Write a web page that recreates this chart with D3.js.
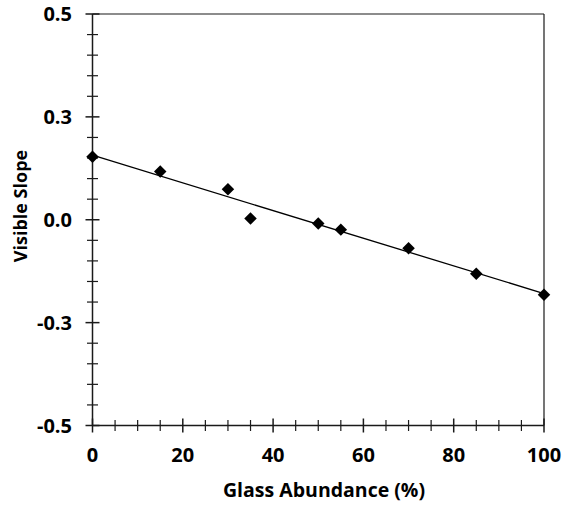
<!DOCTYPE html>
<html>
<head>
<meta charset="utf-8">
<script src="https://cdn.jsdelivr.net/npm/d3@7"></script>
<style>
  html, body { margin: 0; padding: 0; background: #fff; }
  svg { display: block; }
  text { font-family: "Open Sans", Lato, sans-serif; font-weight: bold; fill: #000; }
</style>
</head>
<body>
<svg id="chart" width="562" height="506"></svg>
<script>
// Data
const glassAbundance = [0, 15, 30, 35, 50, 55, 70, 85, 100];
const visibleSlope   = [0.153, 0.117, 0.074, 0.003, -0.009, -0.024, -0.069, -0.131, -0.182];
const xTickValues = [0, 20, 40, 60, 80, 100];
const yTickValues = [-0.5, -0.25, 0, 0.25, 0.5];
const xTitle = "Glass Abundance (%)";
const yTitle = "Visible Slope";

(function () {
const svg = d3.select("#chart");
const pL = 92.5, pR = 544, pT = 14, pB = 425.5;

const x = d3.scaleLinear().domain([0, 100]).range([pL, pR]);
const y = d3.scaleLinear().domain([-0.5, 0.5]).range([pB, pT]);

const loc = d3.formatLocale({ decimal: ".", thousands: ",", grouping: [3], currency: ["", ""], minus: "-" });
const fmtY = loc.format(".1f");
const fmtX = loc.format("d");

const axisColor = "#1a1a1a";

// frame (top & right lines)
svg.append("line").attr("x1", pL).attr("x2", pR).attr("y1", pT).attr("y2", pT)
  .attr("stroke", axisColor).attr("stroke-width", 1.2);
svg.append("line").attr("x1", pR).attr("x2", pR).attr("y1", pT).attr("y2", pB)
  .attr("stroke", axisColor).attr("stroke-width", 1.2);

// minor ticks
const xMinor = d3.range(0, 101, 5).filter(v => v % 20 !== 0);
const yMinor = d3.range(-10, 11).map(i => i * 0.05).filter(v => Math.abs((v / 0.25) - Math.round(v / 0.25)) > 1e-6);

const g = svg.append("g");
g.selectAll(".xminor").data(xMinor).join("line")
  .attr("x1", d => x(d)).attr("x2", d => x(d))
  .attr("y1", pB - 5.5).attr("y2", pB + 5.5)
  .attr("stroke", axisColor).attr("stroke-width", 1.2);
g.selectAll(".yminor").data(yMinor).join("line")
  .attr("y1", d => y(d)).attr("y2", d => y(d))
  .attr("x1", pL - 5.5).attr("x2", pL + 5.5)
  .attr("stroke", axisColor).attr("stroke-width", 1.2);

// major ticks
g.selectAll(".xmajor").data(xTickValues).join("line")
  .attr("x1", d => x(d)).attr("x2", d => x(d))
  .attr("y1", pB - 7).attr("y2", pB + 7)
  .attr("stroke", axisColor).attr("stroke-width", 1.5);
g.selectAll(".ymajor").data(yTickValues).join("line")
  .attr("y1", d => y(d)).attr("y2", d => y(d))
  .attr("x1", pL - 7).attr("x2", pL + 7)
  .attr("stroke", axisColor).attr("stroke-width", 1.5);

// axis lines
svg.append("line").attr("x1", pL).attr("x2", pR).attr("y1", pB).attr("y2", pB)
  .attr("stroke", axisColor).attr("stroke-width", 1.5);
svg.append("line").attr("x1", pL).attr("x2", pL).attr("y1", pT).attr("y2", pB)
  .attr("stroke", axisColor).attr("stroke-width", 1.5);

// tick labels
svg.selectAll(".xlab").data(xTickValues).join("text")
  .attr("x", d => x(d)).attr("y", 462)
  .attr("text-anchor", "middle").attr("font-size", 20)
  .text(d => fmtX(d));
svg.selectAll(".ylab").data(yTickValues).join("text")
  .attr("x", 72).attr("y", d => y(d)).attr("dy", "0.36em")
  .attr("text-anchor", "end").attr("font-size", 20)
  .text(d => fmtY(d));

// axis titles
svg.append("text").attr("x", 324).attr("y", 497)
  .attr("text-anchor", "middle").attr("font-size", 19.5).text(xTitle);
svg.append("text").attr("transform", `translate(27,206) rotate(-90)`)
  .attr("text-anchor", "middle").attr("font-size", 18).text(yTitle);

// linear regression trend line
const n = glassAbundance.length;
const mx = d3.mean(glassAbundance), my = d3.mean(visibleSlope);
let sxy = 0, sxx = 0;
for (let i = 0; i < n; i++) {
  sxy += (glassAbundance[i] - mx) * (visibleSlope[i] - my);
  sxx += (glassAbundance[i] - mx) ** 2;
}
const slope = sxy / sxx, intercept = my - slope * mx;
svg.append("line")
  .attr("x1", x(0)).attr("y1", y(intercept))
  .attr("x2", x(100)).attr("y2", y(intercept + slope * 100))
  .attr("stroke", "#000").attr("stroke-width", 1.3);

// markers (diamonds)
const diamond = d3.symbol().type(d3.symbolSquare).size(78);
svg.selectAll(".pt").data(glassAbundance.map((v, i) => [v, visibleSlope[i]])).join("path")
  .attr("d", diamond)
  .attr("transform", d => `translate(${x(d[0])},${y(d[1])}) rotate(45)`)
  .attr("fill", "#000");
})();
</script>
</body>
</html>
